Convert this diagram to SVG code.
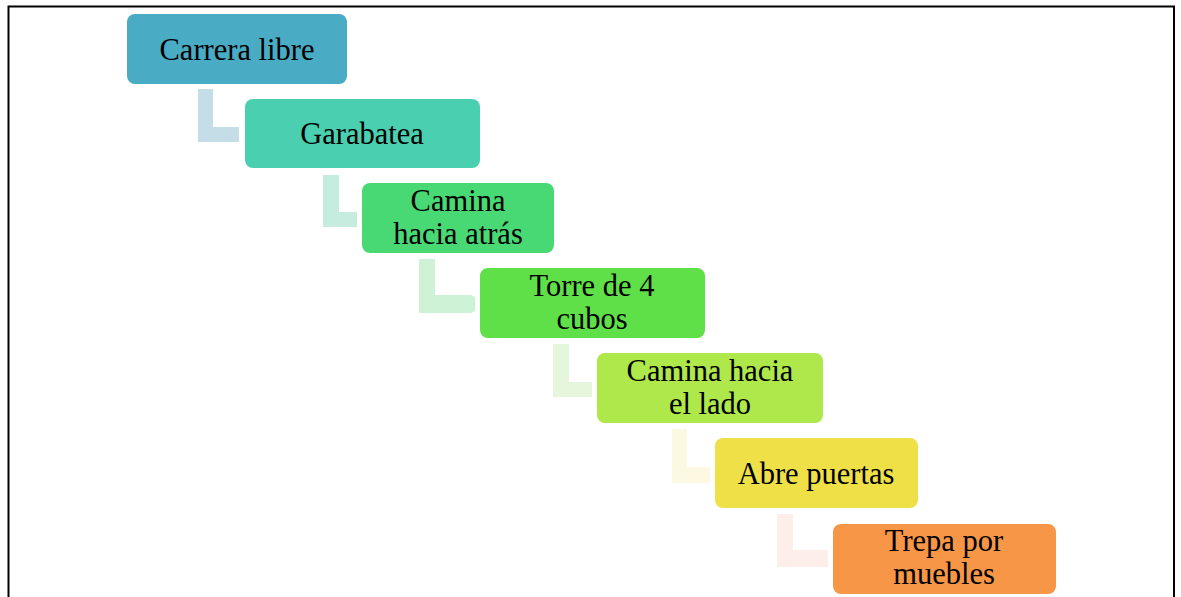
<svg xmlns="http://www.w3.org/2000/svg" width="1181" height="597" viewBox="0 0 1181 597">
<style>
.box{stroke:none}
.t{font-family:"Liberation Serif","Times New Roman",serif;font-size:30.5px;fill:#000;text-anchor:middle}
</style>
<rect x="0" y="0" width="1181" height="597" fill="#fff"/>
<path d="M8.5,600 V6.5 H1174 V600" fill="none" stroke="#000" stroke-width="2"/>
<g id="connectors">
<path d="M198,89 H213 V127 H239 V142 H198 Z" fill="#c4dde6"/>
<path d="M323,175 H339 V212 H357 V227 H323 Z" fill="#c6ece0"/>
<path d="M419,259 H435 V295 H471 L475,297 V311 L471,313 H419 Z" fill="#cdf2d6"/>
<path d="M553,344 H569 V382 H592 V397 H553 Z" fill="#e5f6dc"/>
<path d="M672,429 H687 V467 H710 V483 H672 Z" fill="#fdf8e2"/>
<path d="M777,514 H793 V550 H828 V567 H777 Z" fill="#fdeee9"/>
</g>
<g id="n1"><rect class="box" x="127" y="14" width="220" height="70" rx="8" fill="#4aabc5"/><text class="t" x="237" y="60">Carrera libre</text></g>
<g id="n2"><rect class="box" x="245" y="99" width="235" height="69" rx="8" fill="#4acfb0"/><text class="t" x="362" y="144">Garabatea</text></g>
<g id="n3"><rect class="box" x="362" y="183" width="192" height="70" rx="8" fill="#48d975"/><text class="t" x="458" y="211">Camina</text><text class="t" x="458" y="244">hacia atrás</text></g>
<g id="n4"><rect class="box" x="480" y="268" width="225" height="70" rx="8" fill="#5fe048"/><text class="t" x="592" y="296">Torre de 4</text><text class="t" x="592" y="329">cubos</text></g>
<g id="n5"><rect class="box" x="597" y="353" width="226" height="70" rx="8" fill="#aee84a"/><text class="t" x="710" y="381">Camina hacia</text><text class="t" x="710" y="414">el lado</text></g>
<g id="n6"><rect class="box" x="715" y="438" width="203" height="70" rx="8" fill="#efe047"/><text class="t" x="816" y="484">Abre puertas</text></g>
<g id="n7"><rect class="box" x="833" y="524" width="223" height="70" rx="8" fill="#f79646"/><text class="t" x="944" y="551">Trepa por</text><text class="t" x="944" y="584">muebles</text></g>
</svg>
